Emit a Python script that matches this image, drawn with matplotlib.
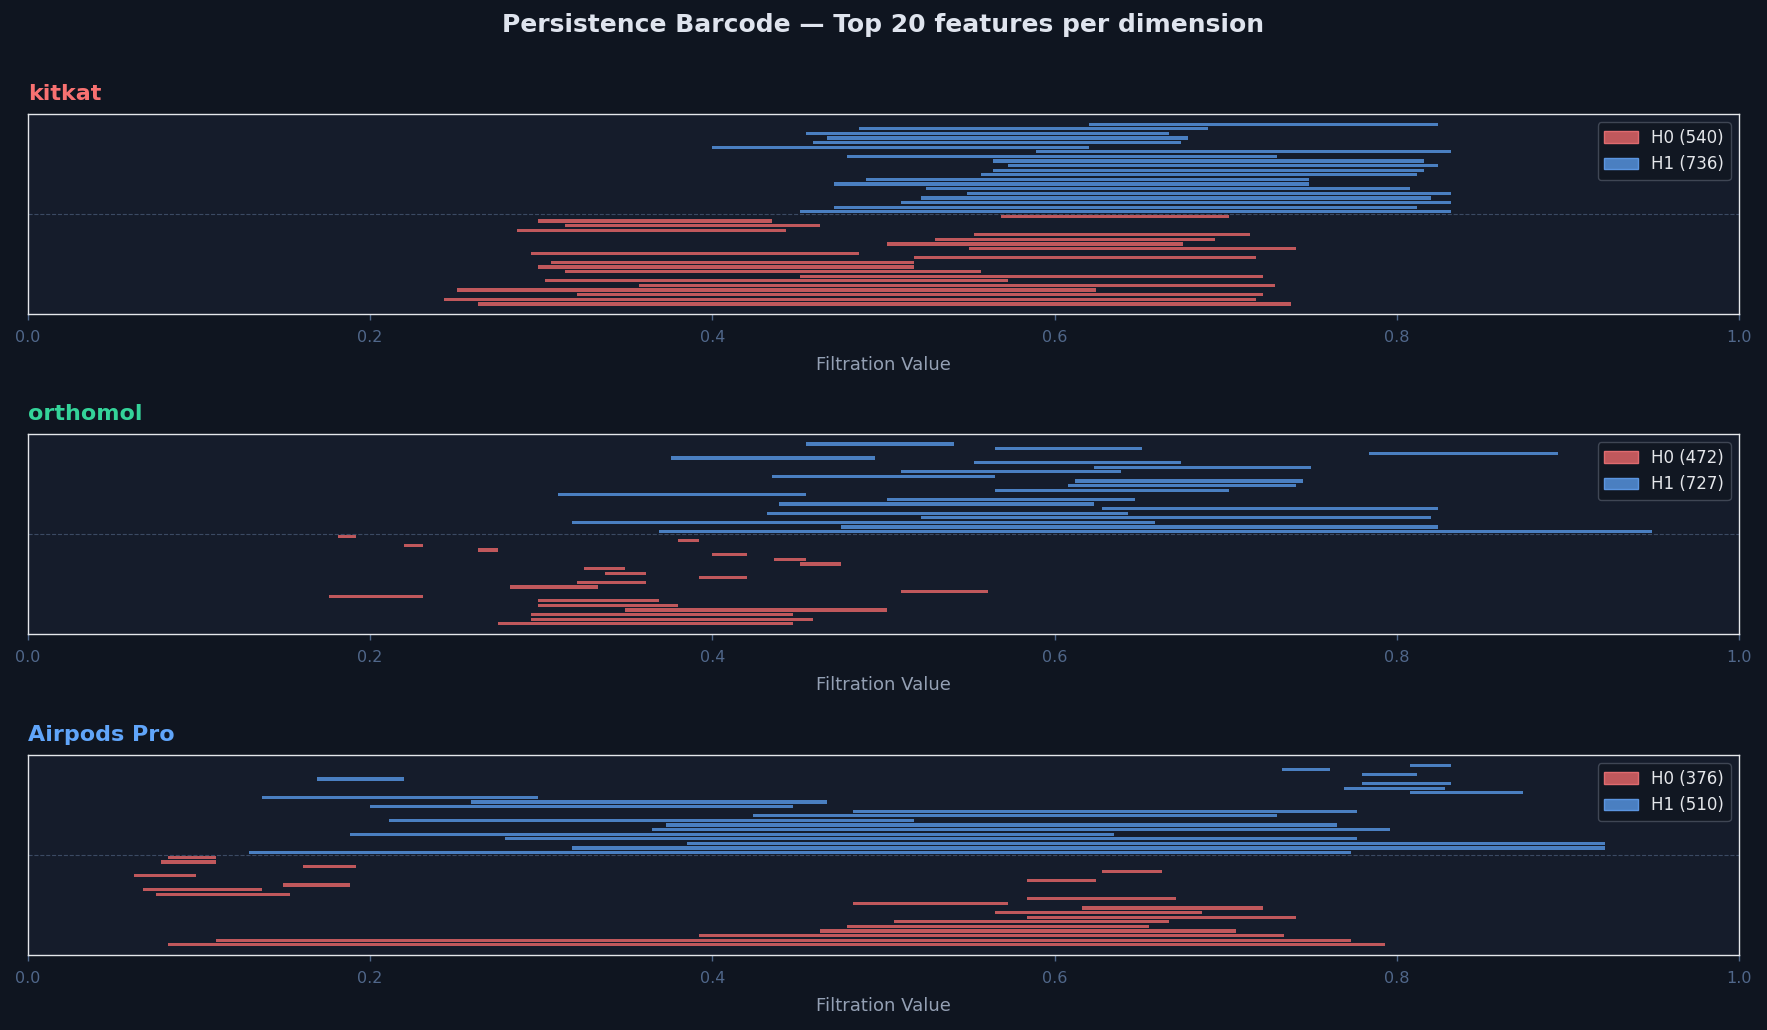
import matplotlib
matplotlib.use("Agg")
import matplotlib.pyplot as plt
from matplotlib.patches import Patch

# ---------------- data (rows listed from bottom to top) ----------------
names = ["kitkat", "orthomol", "Airpods Pro"]
title_colors = ["#f87171", "#34d399", "#60a5fa"]
h0_counts = [540, 472, 376]
h1_counts = [736, 727, 510]

kitkat_h0_birth = [0.263, 0.243, 0.321, 0.251, 0.357, 0.302, 0.451, 0.314, 0.298, 0.306,
                   0.518, 0.294, 0.550, 0.502, 0.530, 0.553, 0.286, 0.314, 0.298, 0.569]
kitkat_h0_death = [0.738, 0.718, 0.722, 0.624, 0.729, 0.573, 0.722, 0.557, 0.518, 0.518,
                   0.718, 0.486, 0.741, 0.675, 0.694, 0.714, 0.443, 0.463, 0.435, 0.702]
kitkat_h1_birth = [0.451, 0.471, 0.510, 0.522, 0.549, 0.525, 0.471, 0.490, 0.557, 0.564,
                   0.573, 0.564, 0.479, 0.589, 0.400, 0.459, 0.467, 0.455, 0.486, 0.620]
kitkat_h1_death = [0.832, 0.812, 0.832, 0.820, 0.832, 0.808, 0.749, 0.749, 0.812, 0.816,
                   0.824, 0.816, 0.730, 0.832, 0.620, 0.674, 0.678, 0.667, 0.690, 0.824]

orthomol_h0_birth = [0.275, 0.294, 0.294, 0.349, 0.298, 0.298, 0.176, 0.510, 0.282, 0.321,
                     0.392, 0.337, 0.325, 0.451, 0.436, 0.400, 0.263, 0.220, 0.380, 0.181]
orthomol_h0_death = [0.447, 0.459, 0.447, 0.502, 0.380, 0.369, 0.231, 0.561, 0.333, 0.361,
                     0.420, 0.361, 0.349, 0.475, 0.455, 0.420, 0.275, 0.231, 0.392, 0.192]
orthomol_h1_birth = [0.369, 0.475, 0.318, 0.522, 0.432, 0.628, 0.439, 0.502, 0.310, 0.565,
                     0.608, 0.612, 0.435, 0.510, 0.623, 0.553, 0.376, 0.784, 0.565, 0.455]
orthomol_h1_death = [0.949, 0.824, 0.659, 0.820, 0.643, 0.824, 0.623, 0.647, 0.455, 0.702,
                     0.741, 0.745, 0.565, 0.639, 0.750, 0.674, 0.495, 0.894, 0.651, 0.541]

airpods_h0_birth = [0.082, 0.110, 0.392, 0.463, 0.479, 0.506, 0.584, 0.565, 0.616, 0.482,
                    0.584, 0.075, 0.067, 0.149, 0.584, 0.062, 0.628, 0.161, 0.078, 0.082]
airpods_h0_death = [0.793, 0.773, 0.734, 0.706, 0.655, 0.667, 0.741, 0.686, 0.722, 0.573,
                    0.671, 0.153, 0.137, 0.188, 0.624, 0.098, 0.663, 0.192, 0.110, 0.110]
airpods_h1_birth = [0.129, 0.318, 0.385, 0.279, 0.188, 0.365, 0.373, 0.211, 0.424, 0.482,
                    0.200, 0.259, 0.137, 0.808, 0.769, 0.780, 0.169, 0.780, 0.733, 0.808]
airpods_h1_death = [0.773, 0.922, 0.922, 0.777, 0.635, 0.796, 0.765, 0.518, 0.730, 0.777,
                    0.447, 0.467, 0.298, 0.874, 0.828, 0.832, 0.220, 0.812, 0.761, 0.832]

x_ticks = [0.0, 0.2, 0.4, 0.6, 0.8, 1.0]
x_tick_labels = ["0.0", "0.2", "0.4", "0.6", "0.8", "1.0"]

panels = [
    (kitkat_h0_birth, kitkat_h0_death, kitkat_h1_birth, kitkat_h1_death),
    (orthomol_h0_birth, orthomol_h0_death, orthomol_h1_birth, orthomol_h1_death),
    (airpods_h0_birth, airpods_h0_death, airpods_h1_birth, airpods_h1_death),
]

# ---------------- style ----------------
FIG_BG = "#0f1520"
AX_BG = "#151c2b"
H0_COLOR = "#c0585c"
H1_COLOR = "#4a7fc1"
H0_EDGE = "#e06b6f"
H1_EDGE = "#5b95e0"
TICK_COLOR = "#50678a"

fig = plt.figure(figsize=(17.67, 10.30), dpi=100, facecolor=FIG_BG)
left, width = 0.0158, 0.9683
bottoms = [0.6951, 0.3845, 0.0728]
height = 0.1942

for k, (name, tcol, (b0, d0, b1, d1)) in enumerate(zip(names, title_colors, panels)):
    ax = fig.add_axes([left, bottoms[k], width, height])
    ax.set_facecolor(AX_BG)
    n0 = len(b0)
    y0 = list(range(n0))
    y1 = [n0 + i for i in range(len(b1))]
    w0 = [d - b for b, d in zip(b0, d0)]
    w1 = [d - b for b, d in zip(b1, d1)]
    ax.barh(y0, w0, left=b0, height=0.7, color=H0_COLOR, linewidth=0)
    ax.barh(y1, w1, left=b1, height=0.7, color=H1_COLOR, linewidth=0)
    ax.axhline(n0 - 0.5, color="#3b4a63", linestyle="--", linewidth=0.8)
    ax.set_xlim(0, 1)
    ax.set_ylim(-2.2, 41.2)
    ax.set_yticks([])
    ax.set_xticks(x_ticks)
    ax.set_xticklabels(x_tick_labels)
    ax.tick_params(axis="x", colors=TICK_COLOR, labelsize=11.5, length=4.5, width=1.0,
                   pad=7, labelcolor=TICK_COLOR)
    for sp in ax.spines.values():
        sp.set_color("#e5e7eb")
        sp.set_linewidth(1.0)
    ax.set_xlabel("Filtration Value", color="#94a0b4", fontsize=13, labelpad=8)
    ax.set_title(name, loc="left", color=tcol, fontsize=16, fontweight="bold", pad=10)
    handles = [
        Patch(facecolor=H0_COLOR, edgecolor=H0_EDGE, label=f"H0 ({h0_counts[k]})"),
        Patch(facecolor=H1_COLOR, edgecolor=H1_EDGE, label=f"H1 ({h1_counts[k]})"),
    ]
    ax.legend(handles=handles, loc="upper right", fontsize=12,
              facecolor="#111722", edgecolor="#3f4654", labelcolor="#e5e7eb",
              framealpha=1.0)

fig.suptitle("Persistence Barcode \u2014 Top 20 features per dimension",
             color="#dfe4ee", fontsize=18, fontweight="bold", y=0.976, va="center")

fig.savefig("out.png", dpi=100, facecolor=FIG_BG)
